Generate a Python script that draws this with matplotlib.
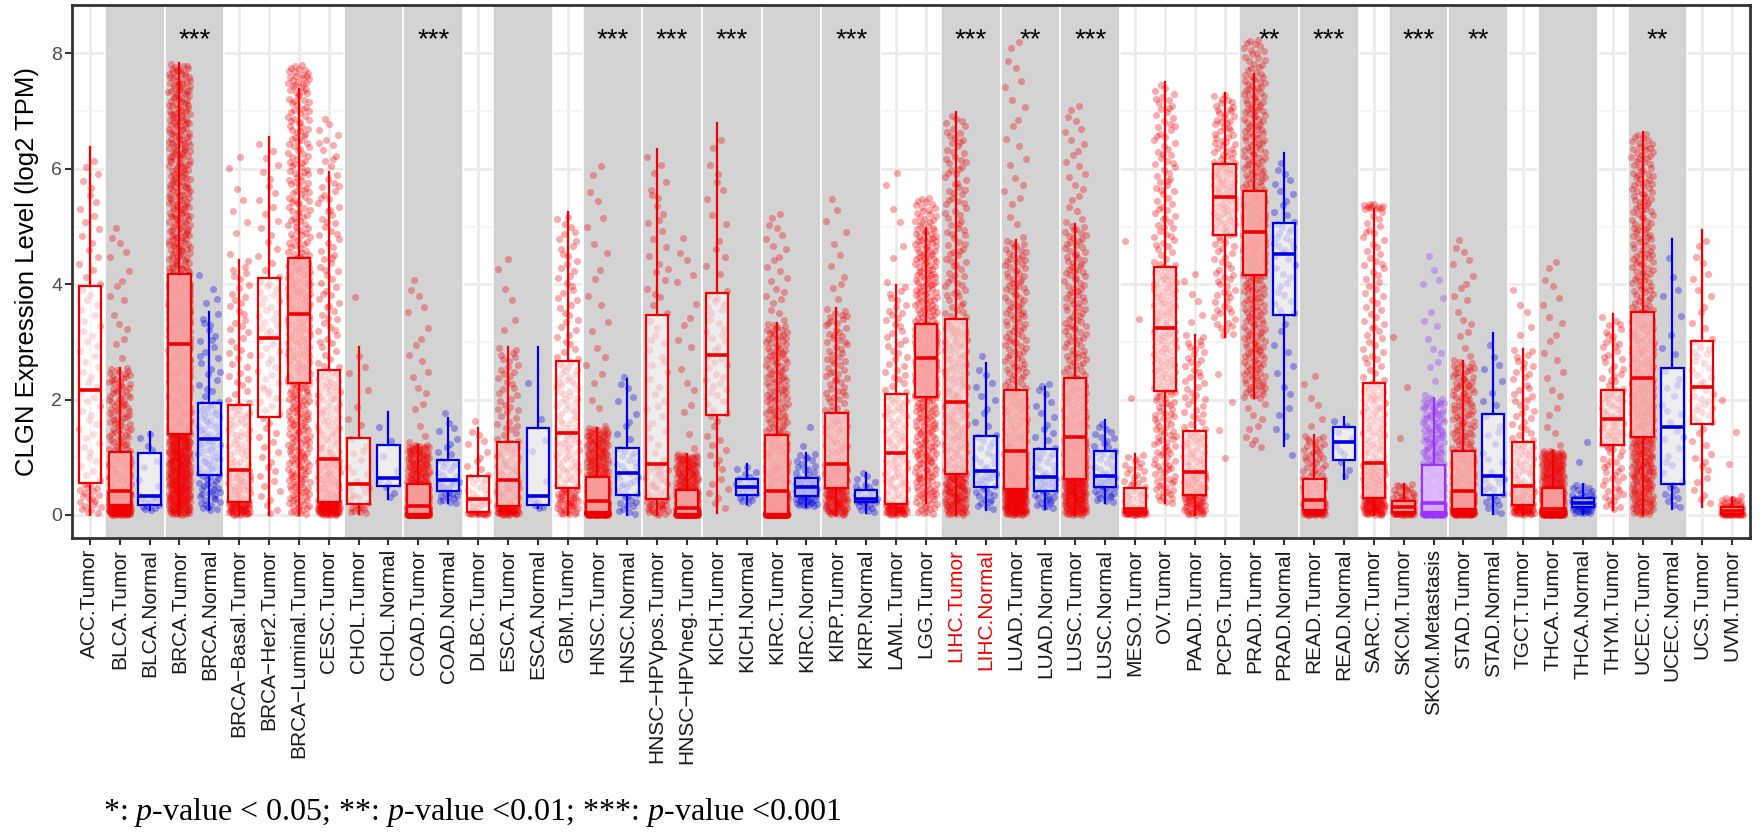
import numpy as np
import matplotlib
matplotlib.use("Agg")
import matplotlib.pyplot as plt

plt.rcParams['font.family'] = ['Liberation Sans', 'DejaVu Sans']
plt.rcParams['mathtext.fontset'] = 'custom'
plt.rcParams['mathtext.rm'] = 'Liberation Serif'
plt.rcParams['mathtext.it'] = 'Liberation Serif:italic'

# ---------------- data ----------------
categories = ["ACC.Tumor", "BLCA.Tumor", "BLCA.Normal", "BRCA.Tumor", "BRCA.Normal",
              "BRCA\u2212Basal.Tumor", "BRCA\u2212Her2.Tumor", "BRCA\u2212Luminal.Tumor",
              "CESC.Tumor", "CHOL.Tumor", "CHOL.Normal", "COAD.Tumor", "COAD.Normal",
              "DLBC.Tumor", "ESCA.Tumor", "ESCA.Normal", "GBM.Tumor", "HNSC.Tumor",
              "HNSC.Normal", "HNSC\u2212HPVpos.Tumor", "HNSC\u2212HPVneg.Tumor", "KICH.Tumor",
              "KICH.Normal", "KIRC.Tumor", "KIRC.Normal", "KIRP.Tumor", "KIRP.Normal",
              "LAML.Tumor", "LGG.Tumor", "LIHC.Tumor", "LIHC.Normal", "LUAD.Tumor",
              "LUAD.Normal", "LUSC.Tumor", "LUSC.Normal", "MESO.Tumor", "OV.Tumor",
              "PAAD.Tumor", "PCPG.Tumor", "PRAD.Tumor", "PRAD.Normal", "READ.Tumor",
              "READ.Normal", "SARC.Tumor", "SKCM.Tumor", "SKCM.Metastasis", "STAD.Tumor",
              "STAD.Normal", "TGCT.Tumor", "THCA.Tumor", "THCA.Normal", "THYM.Tumor",
              "UCEC.Tumor", "UCEC.Normal", "UCS.Tumor", "UVM.Tumor"]
groups = ["T", "T", "N", "T", "N", "T", "T", "T", "T", "T", "N", "T", "N", "T", "T", "N",
          "T", "T", "N", "T", "T", "T", "N", "T", "N", "T", "N", "T", "T", "T", "N", "T",
          "N", "T", "N", "T", "T", "T", "T", "T", "N", "T", "N", "T", "T", "M", "T", "N",
          "T", "T", "N", "T", "T", "N", "T", "T"]
n_samples = [79, 408, 19, 1100, 112, 190, 82, 560, 306, 36, 9, 457, 41, 48, 182, 11,
             166, 520, 44, 98, 422, 66, 25, 533, 72, 290, 32, 173, 516, 371, 50, 515,
             59, 501, 51, 87, 303, 179, 182, 497, 52, 166, 10, 262, 103, 368, 415, 35,
             156, 509, 59, 120, 545, 35, 57, 80]
point_min = [0, 0, 0.08, 0, 0.08, 0, 0, 0, 0, 0.02, 0.28, 0, 0.2, 0, 0, 0.12,
             0, 0, 0, 0, 0, 0.04, 0.19, 0, 0.14, 0, 0.04, 0, 0, 0, 0.08, 0,
             0.11, 0, 0.21, 0, 0.2, 0, 0.5, 1.11, 0.79, 0, 0.63, 0, 0, 0, 0, 0.02,
             0, 0, 0.02, 0.08, 0, 0.11, 0.14, 0]
whisk_lo = [0, 0, 0.08, 0, 0.08, 0, 0, 0, 0, 0.02, 0.28, 0, 0.2, 0, 0, 0.12,
            0, 0, 0, 0, 0, 0.04, 0.19, 0, 0.14, 0, 0.04, 0, 0.2, 0, 0.08, 0,
            0.11, 0, 0.21, 0, 0.2, 0, 3.09, 2.02, 1.19, 0, 0.63, 0, 0, 0, 0, 0.02,
            0, 0, 0.02, 0.08, 0, 0.11, 0.14, 0]
q1 = [0.55, 0.17, 0.17, 1.41, 0.69, 0.22, 1.70, 2.29, 0.22, 0.19, 0.50, 0.02, 0.41, 0.05,
      0.15, 0.17, 0.47, 0.05, 0.35, 0.28, 0.02, 1.73, 0.35, 0.02, 0.32, 0.46, 0.22, 0.19,
      2.05, 0.71, 0.49, 0.45, 0.41, 0.63, 0.48, 0.05, 2.15, 0.34, 4.85, 4.16, 3.46, 0.09,
      0.95, 0.30, 0.05, 0.05, 0.11, 0.35, 0.17, 0.05, 0.13, 1.21, 1.35, 0.54, 1.58, 0.02]
median = [2.17, 0.41, 0.33, 2.97, 1.32, 0.78, 3.07, 3.49, 0.97, 0.53, 0.64, 0.16, 0.60, 0.28,
          0.61, 0.33, 1.42, 0.24, 0.73, 0.89, 0.12, 2.78, 0.48, 0.41, 0.48, 0.89, 0.28, 1.08,
          2.72, 1.96, 0.76, 1.10, 0.66, 1.35, 0.68, 0.11, 3.24, 0.75, 5.51, 4.90, 4.52, 0.26,
          1.27, 0.90, 0.13, 0.21, 0.41, 0.67, 0.50, 0.11, 0.21, 1.67, 2.38, 1.53, 2.21, 0.07]
q3 = [3.97, 1.09, 1.08, 4.17, 1.94, 1.91, 4.10, 4.46, 2.51, 1.34, 1.21, 0.54, 0.95, 0.68,
      1.26, 1.51, 2.67, 0.66, 1.16, 3.46, 0.44, 3.85, 0.63, 1.38, 0.64, 1.76, 0.44, 2.10,
      3.31, 3.39, 1.37, 2.16, 1.14, 2.38, 1.11, 0.47, 4.30, 1.46, 6.09, 5.61, 5.06, 0.62,
      1.53, 2.29, 0.24, 0.86, 1.11, 1.75, 1.27, 0.47, 0.30, 2.17, 3.52, 2.54, 3.02, 0.14]
whisk_hi = [6.38, 2.54, 1.44, 7.83, 3.52, 4.42, 6.56, 7.38, 5.95, 2.91, 1.79, 1.22, 1.68, 1.51,
            2.91, 2.91, 5.25, 1.51, 2.36, 6.35, 1.05, 6.79, 0.88, 3.32, 1.08, 3.58, 0.73, 3.98,
            4.97, 6.98, 2.64, 4.76, 2.22, 5.04, 1.65, 1.05, 7.51, 3.12, 7.32, 7.64, 6.28, 1.38,
            1.70, 5.30, 0.53, 2.03, 2.66, 3.15, 2.87, 1.11, 0.53, 3.49, 6.63, 4.79, 4.94, 0.30]
point_max = [6.38, 5.22, 2.98, 7.83, 4.40, 6.58, 6.56, 7.82, 6.95, 5.53, 1.79, 4.36, 2.02, 2.50,
             4.79, 2.91, 5.25, 6.34, 2.54, 6.35, 5.17, 6.79, 1.11, 5.34, 2.17, 5.66, 0.75, 6.35,
             5.52, 6.98, 4.11, 8.43, 2.30, 7.22, 1.65, 6.11, 7.51, 4.42, 7.32, 8.28, 6.28, 2.65,
             1.70, 5.40, 3.95, 4.72, 4.98, 3.15, 4.30, 4.60, 1.96, 3.49, 6.63, 4.79, 4.94, 2.54]

band_start = [1, 3, 9, 11, 14, 17, 19, 21, 23, 25, 29, 31, 33, 39, 41, 44, 46, 49, 52]
band_stars = ["", "***", "", "***", "", "***", "***", "***", "", "***", "***", "**", "***",
              "**", "***", "***", "**", "", "**"]
highlight_labels = ["LIHC.Tumor", "LIHC.Normal"]

y_ticks = [0, 2, 4, 6, 8]
y_label = "CLGN Expression Level (log2 TPM)"
footnote = r"*: $\mathit{p}$-value < 0.05; **: $\mathit{p}$-value <0.01; ***: $\mathit{p}$-value <0.001"

group_colors = {"T": "#F00000", "N": "#0000E6", "M": "#9B30FF"}


def radical_inverse(k, base):
    """Deterministic Halton (radical inverse) sequence used for jitter placement."""
    out = np.zeros(len(k))
    f = 1.0 / base
    kk = k.copy()
    while np.any(kk > 0):
        out += f * (kk % base)
        kk = kk // base
        f /= base
    return out


# ---------------- figure ----------------
W, H = 1760, 832
fig = plt.figure(figsize=(W / 100, H / 100), dpi=100)
ax = fig.add_axes([72 / W, 1 - 538 / H, (1750 - 72) / W, (538 - 5) / H])

ncat = len(categories)
ax.set_xlim(-0.6, ncat - 1 + 0.6)
ax.set_ylim(-0.40, 8.84)

# grid
ax.set_axisbelow(True)
ax.set_yticks(y_ticks)
ax.set_yticks([1, 3, 5, 7], minor=True)
ax.set_xticks(np.arange(ncat))
ax.grid(True, which="major", color="#EBEBEB", linewidth=2.0)
ax.grid(True, which="minor", axis="y", color="#F3F3F3", linewidth=1.2)

# gray bands for tumor / normal pairs
for s, st in zip(band_start, band_stars):
    ax.axvspan(s - 0.5, s + 1.5, facecolor="#D3D3D3", edgecolor="white",
               linewidth=1.2, zorder=0.8)
    if st:
        ax.text(s + 0.5, 8.10, st, ha="center", va="baseline", fontsize=20,
                color="black", zorder=5)

# jittered points: cloud spread through the read summary values of each group
for i in range(ncat):
    n = n_samples[i]
    k = np.arange(1, n + 1)
    xs = i + (radical_inverse(k, 2) - 0.5) * 0.74
    p = radical_inverse(k, 3)
    k_hi = max(1, int(round(0.045 * n))) if point_max[i] > whisk_hi[i] + 0.01 else 0
    k_lo = max(1, int(round(0.02 * n))) if whisk_lo[i] > point_min[i] + 0.01 else 0
    pk = [0.0, k_lo / n, 0.25, 0.5, 0.75, 1 - k_hi / n, 1.0]
    vk = [point_min[i], whisk_lo[i], q1[i], median[i], q3[i], whisk_hi[i], point_max[i]]
    ys = np.interp(p, pk, vk)
    ax.scatter(xs, ys, s=26, color=group_colors[groups[i]], alpha=0.33,
               linewidths=0, zorder=2)

# boxplots
for g, col in group_colors.items():
    idx = [i for i in range(ncat) if groups[i] == g]
    stats = [dict(med=median[i], q1=q1[i], q3=q3[i], whislo=whisk_lo[i],
                  whishi=whisk_hi[i], fliers=[]) for i in idx]
    ax.bxp(stats, positions=idx, widths=0.75, patch_artist=True, showcaps=False,
           showfliers=False, manage_ticks=False,
           boxprops=dict(facecolor=(1, 1, 1, 0.6), edgecolor=col, linewidth=1.6),
           medianprops=dict(color=col, linewidth=2.6, solid_capstyle="butt"),
           whiskerprops=dict(color=col, linewidth=1.6), zorder=3)

# axes styling
for sp in ax.spines.values():
    sp.set_color("#333333")
    sp.set_linewidth(2.0)
    sp.set_zorder(6)
ax.tick_params(axis="both", which="major", length=5, width=1.5, color="#333333")
ax.tick_params(axis="both", which="minor", length=0)
ax.tick_params(axis="y", labelsize=14, labelcolor="#4D4D4D", pad=2)
ax.set_yticklabels([str(v) for v in y_ticks])
ax.set_xticklabels(categories, rotation=90, fontsize=15, color="#1A1A1A")
ax.tick_params(axis="x", pad=3)
for lab in ax.get_xticklabels():
    if lab.get_text() in highlight_labels:
        lab.set_color("#F00000")

fig.text(27 / W, 1 - 271.5 / H, y_label, rotation=90, ha="center", va="center",
         fontsize=18.5, color="black")

fig.text(103 / W, 1 - 820 / H, footnote, ha="left", va="baseline", fontsize=23,
         family="Liberation Serif", color="black")

fig.savefig("out.png", dpi=100, facecolor="white")
